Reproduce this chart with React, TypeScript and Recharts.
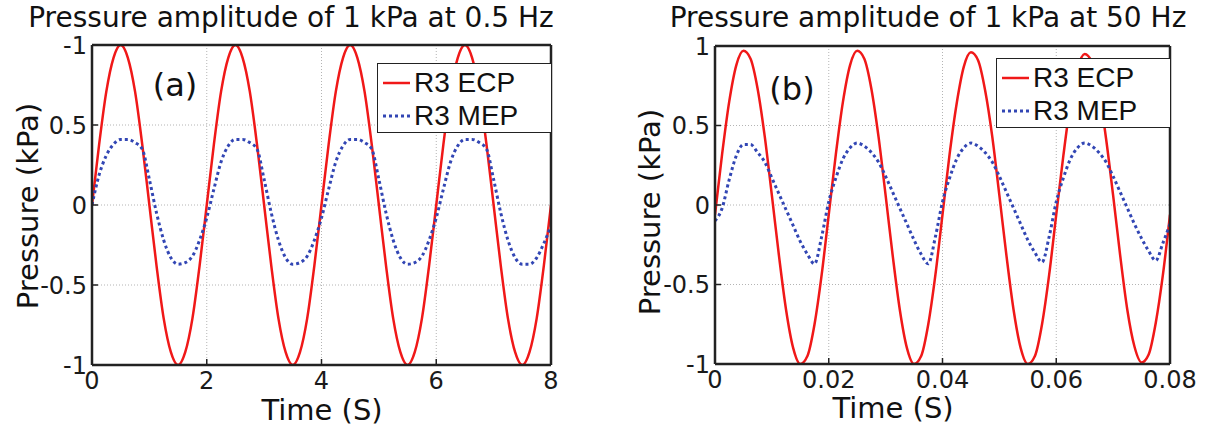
import React from 'react';
import { LineChart, Line, XAxis, YAxis, CartesianGrid, Legend } from 'recharts';

// panel (a): 0.5 Hz, time in s
const timeA = [
  0, 0.125, 0.25, 0.375, 0.5, 0.625, 0.75, 0.875,
  1, 1.125, 1.25, 1.375, 1.5, 1.625, 1.75, 1.875,
  2, 2.125, 2.25, 2.375, 2.5, 2.625, 2.75, 2.875,
  3, 3.125, 3.25, 3.375, 3.5, 3.625, 3.75, 3.875,
  4, 4.125, 4.25, 4.375, 4.5, 4.625, 4.75, 4.875,
  5, 5.125, 5.25, 5.375, 5.5, 5.625, 5.75, 5.875,
  6, 6.125, 6.25, 6.375, 6.5, 6.625, 6.75, 6.875,
  7, 7.125, 7.25, 7.375, 7.5, 7.625, 7.75, 7.875,
  8,
];
const ecpA = [
  0, 0.38, 0.71, 0.92, 1, 0.92, 0.71, 0.38,
  0, -0.38, -0.71, -0.92, -1, -0.92, -0.71, -0.38,
  0, 0.38, 0.71, 0.92, 1, 0.92, 0.71, 0.38,
  0, -0.38, -0.71, -0.92, -1, -0.92, -0.71, -0.38,
  0, 0.38, 0.71, 0.92, 1, 0.92, 0.71, 0.38,
  0, -0.38, -0.71, -0.92, -1, -0.92, -0.71, -0.38,
  0, 0.38, 0.71, 0.92, 1, 0.92, 0.71, 0.38,
  0, -0.38, -0.71, -0.92, -1, -0.92, -0.71, -0.38,
  0,
];
const mepA = [
  0, 0.19, 0.31, 0.38, 0.41, 0.41, 0.39, 0.35,
  0.16, -0.05, -0.22, -0.33, -0.37, -0.36, -0.32, -0.22,
  -0.08, 0.1, 0.27, 0.37, 0.41, 0.41, 0.39, 0.35,
  0.16, -0.05, -0.22, -0.33, -0.37, -0.36, -0.32, -0.22,
  -0.08, 0.1, 0.27, 0.37, 0.41, 0.41, 0.39, 0.35,
  0.16, -0.05, -0.22, -0.33, -0.37, -0.36, -0.32, -0.22,
  -0.08, 0.1, 0.27, 0.37, 0.41, 0.41, 0.39, 0.35,
  0.16, -0.05, -0.22, -0.33, -0.37, -0.37, -0.33, -0.24,
  -0.13,
];

// panel (b): 50 Hz, time in s
const timeB = [
  0, 0.00125, 0.0025, 0.00375, 0.005, 0.00625, 0.0075, 0.00875,
  0.01, 0.01125, 0.0125, 0.01375, 0.015, 0.01625, 0.0175, 0.01875,
  0.02, 0.02125, 0.0225, 0.02375, 0.025, 0.02625, 0.0275, 0.02875,
  0.03, 0.03125, 0.0325, 0.03375, 0.035, 0.03625, 0.0375, 0.03875,
  0.04, 0.04125, 0.0425, 0.04375, 0.045, 0.04625, 0.0475, 0.04875,
  0.05, 0.05125, 0.0525, 0.05375, 0.055, 0.05625, 0.0575, 0.05875,
  0.06, 0.06125, 0.0625, 0.06375, 0.065, 0.06625, 0.0675, 0.06875,
  0.07, 0.07125, 0.0725, 0.07375, 0.075, 0.07625, 0.0775, 0.07875,
  0.08,
];
const ecpB = [
  -0.06, 0.32, 0.65, 0.88, 0.97, 0.92, 0.73, 0.43,
  0.06, -0.32, -0.66, -0.9, -1, -0.95, -0.75, -0.44,
  -0.06, 0.32, 0.65, 0.88, 0.97, 0.92, 0.73, 0.43,
  0.06, -0.32, -0.66, -0.9, -1, -0.95, -0.75, -0.44,
  -0.06, 0.32, 0.64, 0.87, 0.96, 0.91, 0.72, 0.43,
  0.06, -0.32, -0.66, -0.9, -1, -0.95, -0.75, -0.44,
  -0.06, 0.31, 0.64, 0.86, 0.95, 0.9, 0.72, 0.42,
  0.06, -0.32, -0.66, -0.89, -0.99, -0.94, -0.74, -0.44,
  -0.06,
];
const mepB = [
  -0.1, -0.02, 0.16, 0.31, 0.38, 0.38, 0.33, 0.27,
  0.17, 0.07, -0.03, -0.13, -0.23, -0.31, -0.37, -0.2,
  0.02, 0.17, 0.29, 0.36, 0.39, 0.37, 0.33, 0.27,
  0.18, 0.08, -0.02, -0.12, -0.22, -0.31, -0.37, -0.2,
  0.02, 0.17, 0.29, 0.36, 0.39, 0.37, 0.33, 0.27,
  0.18, 0.08, -0.02, -0.12, -0.22, -0.3, -0.36, -0.2,
  0.02, 0.17, 0.29, 0.36, 0.39, 0.37, 0.33, 0.27,
  0.18, 0.08, -0.02, -0.12, -0.21, -0.29, -0.35, -0.24,
  -0.12,
];

const xTicksA = [0, 2, 4, 6, 8];
const xLabelsA = ['0', '2', '4', '6', '8'];
const xTicksB = [0, 0.02, 0.04, 0.06, 0.08];
const xLabelsB = ['0', '0.02', '0.04', '0.06', '0.08'];
const yTicks = [-1, -0.5, 0, 0.5, 1];
const yLabelsA = ['-1', '-0.5', '0', '0.5', '-1']; // the top label reads "-1" in the source figure
const yLabelsB = ['-1', '-0.5', '0', '0.5', '1'];
const seriesNames = ['R3 ECP', 'R3 MEP'];

const RED = '#f01818';
const BLUE = '#3246b4';
const FONT = '"DejaVu Sans", Verdana, sans-serif';

const tickStyle = { fontSize: 24, fill: '#1a1a1a', fontFamily: FONT };

const LegendBox = () => (
  <div
    style={{
      width: 175,
      height: 70,
      boxSizing: 'border-box',
      border: '1.5px solid #222',
      background: '#fff',
      fontFamily: '"Liberation Sans", Arial, sans-serif',
      fontSize: 28,
      color: '#111',
      padding: '2px 0 0 4px',
    }}
  >
    {seriesNames.map((name, i) => (
      <div key={name} style={{ display: 'flex', alignItems: 'center', height: 33 }}>
        <svg width={30} height={10} style={{ marginRight: 2 }}>
          <line
            x1={1}
            x2={28}
            y1={5}
            y2={5}
            stroke={i === 0 ? RED : BLUE}
            strokeWidth={i === 0 ? 2.5 : 3}
            strokeDasharray={i === 0 ? undefined : '3 3'}
          />
        </svg>
        <span>{name}</span>
      </div>
    ))}
  </div>
);

interface PanelProps {
  left: number;
  width: number;
  time: number[];
  ecp: number[];
  mep: number[];
  xMax: number;
  xTicks: number[];
  xLabels: string[];
  yLabels: string[];
  yAxisWidth: number;
  margin: { top: number; right: number; bottom: number; left: number };
  legendPos: { left: number; top: number };
}

const Panel: React.FC<PanelProps> = ({
  left, width, time, ecp, mep, xMax, xTicks, xLabels, yLabels, yAxisWidth, margin, legendPos,
}) => {
  const data = time.map((t, i) => ({ t, ecp: ecp[i], mep: mep[i] }));
  const fmtX = (v: number) => xLabels[xTicks.indexOf(v)] ?? String(v);
  const fmtY = (v: number) => yLabels[yTicks.indexOf(v)] ?? String(v);
  return (
    <div style={{ position: 'absolute', left, top: 0 }}>
      <LineChart width={width} height={430} data={data} margin={margin}>
        <CartesianGrid stroke="#b4b4b4" strokeDasharray="1 2" />
        <XAxis
          dataKey="t"
          type="number"
          domain={[0, xMax]}
          ticks={xTicks}
          tickFormatter={fmtX}
          allowDataOverflow
          height={40}
          tick={tickStyle}
          tickSize={-6}
          tickMargin={13}
          axisLine={{ stroke: '#222', strokeWidth: 2.5 }}
          tickLine={{ stroke: '#222', strokeWidth: 1.5 }}
        />
        <XAxis
          xAxisId="top"
          orientation="top"
          dataKey="t"
          type="number"
          domain={[0, xMax]}
          ticks={xTicks}
          allowDataOverflow
          height={1}
          tick={false}
          tickSize={-6}
          axisLine={{ stroke: '#222', strokeWidth: 2.5 }}
          tickLine={{ stroke: '#222', strokeWidth: 1.5 }}
        />
        <YAxis
          type="number"
          domain={[-1, 1]}
          ticks={yTicks}
          tickFormatter={fmtY}
          allowDataOverflow
          width={yAxisWidth}
          tick={tickStyle}
          tickSize={-6}
          tickMargin={11}
          axisLine={{ stroke: '#222', strokeWidth: 2.5 }}
          tickLine={{ stroke: '#222', strokeWidth: 1.5 }}
        />
        <YAxis
          yAxisId="right"
          orientation="right"
          type="number"
          domain={[-1, 1]}
          ticks={yTicks}
          allowDataOverflow
          width={1}
          tick={false}
          tickSize={-6}
          axisLine={{ stroke: '#222', strokeWidth: 2.5 }}
          tickLine={{ stroke: '#222', strokeWidth: 1.5 }}
        />
        <Line
          type="monotone"
          dataKey="ecp"
          name={seriesNames[0]}
          stroke={RED}
          strokeWidth={2.5}
          dot={false}
          isAnimationActive={false}
        />
        <Line
          type="monotone"
          dataKey="mep"
          name={seriesNames[1]}
          stroke={BLUE}
          strokeWidth={3}
          strokeDasharray="3 3"
          dot={false}
          isAnimationActive={false}
        />
        <Legend
          layout="horizontal"
          verticalAlign="middle"
          align="center"
          content={() => <LegendBox />}
          wrapperStyle={{ left: legendPos.left, top: legendPos.top, width: 175, height: 70 }}
        />
      </LineChart>
    </div>
  );
};

const textBase: React.CSSProperties = {
  position: 'absolute',
  fontFamily: FONT,
  color: '#111',
  whiteSpace: 'nowrap',
  lineHeight: 1,
  transform: 'translate(-50%, -50%)',
};

const Txt = ({ x, y, size, rotate, children }: { x: number; y: number; size: number; rotate?: boolean; children: React.ReactNode }) => (
  <div
    style={{
      ...textBase,
      left: x,
      top: y,
      fontSize: size,
      transform: rotate ? 'translate(-50%, -50%) rotate(-90deg)' : textBase.transform,
    }}
  >
    {children}
  </div>
);

export default function App() {
  return (
    <div style={{ position: 'fixed', left: 0, top: 0, width: 1205, height: 430, background: '#fff', overflow: 'hidden' }}>
      <Panel
        left={0}
        width={600}
        time={timeA}
        ecp={ecpA}
        mep={mepA}
        xMax={8}
        xTicks={xTicksA}
        xLabels={xLabelsA}
        yLabels={yLabelsA}
        yAxisWidth={92}
        margin={{ top: 44, right: 48, bottom: 25, left: 0 }}
        legendPos={{ left: 377, top: 63 }}
      />
      <Panel
        left={600}
        width={605}
        time={timeB}
        ecp={ecpB}
        mep={mepB}
        xMax={0.08}
        xTicks={xTicksB}
        xLabels={xLabelsB}
        yLabels={yLabelsB}
        yAxisWidth={115}
        margin={{ top: 45, right: 34, bottom: 26, left: 0 }}
        legendPos={{ left: 396, top: 58 }}
      />
      <Txt x={291} y={18} size={28}>Pressure amplitude of 1 kPa at 0.5 Hz</Txt>
      <Txt x={928} y={18} size={28}>Pressure amplitude of 1 kPa at 50 Hz</Txt>
      <Txt x={28} y={206} size={29} rotate>Pressure (kPa)</Txt>
      <Txt x={650} y={212} size={29} rotate>Pressure (kPa)</Txt>
      <Txt x={322} y={410} size={29}>Time (S)</Txt>
      <Txt x={893} y={408} size={29}>Time (S)</Txt>
      <Txt x={175} y={85} size={32}>(a)</Txt>
      <Txt x={792} y={89} size={32}>(b)</Txt>
    </div>
  );
}
